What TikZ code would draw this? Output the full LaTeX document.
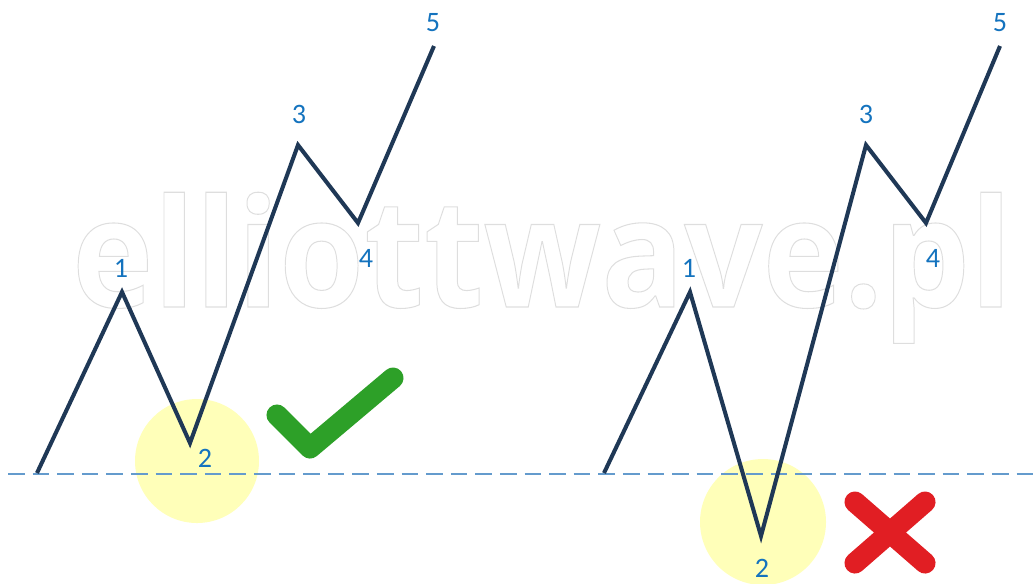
\documentclass[tikz,border=0pt]{standalone}
\usepackage{fontspec}
\setmainfont{Carlito}
\newfontfamily\markfont{Open Sans}
\definecolor{waveline}{RGB}{31,56,86}
\definecolor{wavelabel}{RGB}{20,115,190}
\definecolor{levelline}{RGB}{100,155,205}
\definecolor{spot}{RGB}{255,255,185}
\definecolor{okgreen}{RGB}{45,160,40}
\definecolor{badred}{RGB}{225,30,35}
\definecolor{markgray}{RGB}{222,222,222}
\newcommand{\outlinetext}[1]{\special{pdf:literal direct 1 Tr 0.6 w}#1\special{pdf:literal direct 0 Tr}}

\begin{document}
\begin{tikzpicture}[x=0.02cm,y=-0.02cm,
  wave/.style={draw=waveline,line width=2.3pt},
  wavelbl/.style={text=wavelabel,font=\fontsize{16}{18}\selectfont,inner sep=0pt},
  level/.style={draw=levelline,line width=1.1pt,dash pattern=on 9.5pt off 4.5pt},
  spotlight/.style={fill=spot,draw=none},
  tick/.style={draw=okgreen,line width=12pt,line cap=round,line join=round},
  cross/.style={draw=badred,line width=12pt,line cap=round}]
\useasboundingbox (0,0) rectangle (1033,583);

% highlighted wave 2
\fill[spotlight] (197,461) circle (62);
\fill[spotlight] (763,522) circle (63);

% watermark
\node[text=markgray,inner sep=0pt,anchor=base,font=\markfont\bfseries\fontsize{86}{90}\selectfont] (wm) at (542,307) {\scalebox{0.91}[1]{\outlinetext{elliottwave.pl}}};

% start level
\coordinate (l0) at (8,474);
\coordinate (l1) at (1033,474);
\draw[level] (l0) -- (l1);

% left: correct
\coordinate (a0) at (37,473);
\coordinate (a1) at (122,292);
\coordinate (a2) at (190,443);
\coordinate (a3) at (298,145);
\coordinate (a4) at (358,223);
\coordinate (a5) at (434,46);
\draw[wave] (a0) -- (a1) -- (a2) -- (a3) -- (a4) -- (a5);

\node[wavelbl] (la1) at (121,268) {1};
\node[wavelbl] (la2) at (205,458) {2};
\node[wavelbl] (la3) at (299,114) {3};
\node[wavelbl] (la4) at (366,258) {4};
\node[wavelbl] (la5) at (433,23) {5};

% right: wrong
\coordinate (b0) at (604,473);
\coordinate (b1) at (690,292);
\coordinate (b2) at (761,536);
\coordinate (b3) at (866,145);
\coordinate (b4) at (926,223);
\coordinate (b5) at (1000,46);
\draw[wave] (b0) -- (b1) -- (b2) -- (b3) -- (b4) -- (b5);

\node[wavelbl] (lb1) at (689,268) {1};
\node[wavelbl] (lb2) at (762,568) {2};
\node[wavelbl] (lb3) at (866,114) {3};
\node[wavelbl] (lb4) at (933,258) {4};
\node[wavelbl] (lb5) at (1000,23) {5};

% marks
\draw[tick] (277,415) -- (310,448) -- (393,378);
\draw[cross] (855,502) -- (925,563);
\draw[cross] (925,502) -- (855,563);
\end{tikzpicture}
\end{document}
